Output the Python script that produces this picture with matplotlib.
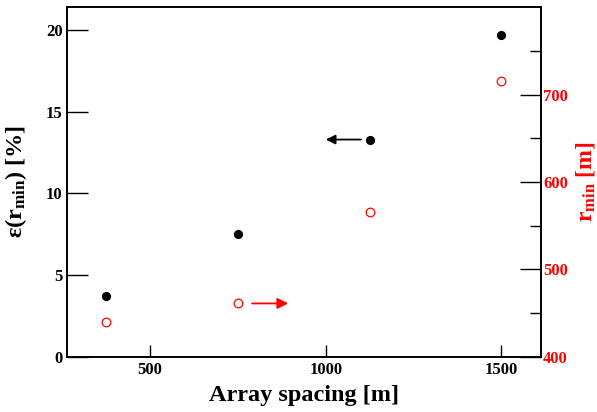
import matplotlib
matplotlib.use("Agg")
import matplotlib.pyplot as plt
from matplotlib.ticker import MultipleLocator, FixedLocator

plt.rcParams['font.family'] = 'Liberation Serif'
plt.rcParams['font.weight'] = 'bold'
plt.rcParams['mathtext.fontset'] = 'custom'
plt.rcParams['mathtext.rm'] = 'Liberation Serif:bold'
plt.rcParams['mathtext.it'] = 'Liberation Serif:bold'
plt.rcParams['mathtext.bf'] = 'Liberation Serif:bold'

# data
spacing = [375, 750, 1125, 1500]
eps_rmin = [3.72, 7.53, 13.29, 19.72]
r_min = [439.5, 461.7, 565.2, 715.8]
r_ticks = [400, 500, 600, 700]

fig = plt.figure(figsize=(5.97, 4.12), dpi=100)
ax = fig.add_axes([0.1117, 0.1342, 0.7945, 0.8481])
ax2 = ax.twinx()

ax.plot(spacing, eps_rmin, 'o', color='black', markersize=5.6, zorder=3)
ax2.plot(spacing, r_min, 'o', mfc='none', mec='red', mew=0.9, markersize=6.2, zorder=3)

ax.set_xlim(262.5, 1612.5)
ax.set_ylim(0, 21.4)
ax2.set_ylim(400, 800)

ax.xaxis.set_major_locator(MultipleLocator(500))
ax.yaxis.set_major_locator(MultipleLocator(5))
ax2.yaxis.set_major_locator(FixedLocator(r_ticks))
ax2.yaxis.set_minor_locator(FixedLocator([450, 550, 650, 750]))

ax.tick_params(axis='x', direction='in', length=9, width=1, labelsize=12, pad=4, top=False)
ax.tick_params(axis='y', direction='in', length=15, width=1, labelsize=12, pad=3, right=False)
ax2.tick_params(axis='y', which='major', direction='in', length=15, width=1,
                labelsize=12, pad=1.5)
ax2.tick_params(axis='y', which='minor', direction='in', length=8, width=1)
for lab in ax2.get_yticklabels():
    lab.set_color('red')

for s in ax.spines.values():
    s.set_linewidth(1.2)
for s in ax2.spines.values():
    s.set_linewidth(1.2)

ax.set_xlabel('Array spacing [m]', fontsize=17.5, fontweight='bold', labelpad=5)
ax.set_ylabel(r'ε(r$_{\mathregular{min}}$) [%]', fontsize=17.5, fontweight='bold', labelpad=12)
ax2.set_ylabel(r'r$_{\mathregular{min}}$ [m]', fontsize=17, fontweight='bold', color='red', labelpad=4)

# direction arrows
ax.annotate('', xy=(1000, 13.3), xytext=(1100, 13.3),
            arrowprops=dict(arrowstyle='-|>', color='black', lw=1.3,
                            mutation_scale=14, shrinkA=0, shrinkB=0))
ax2.annotate('', xy=(893, 461), xytext=(790, 461),
             arrowprops=dict(arrowstyle='-|>', color='red', lw=1.3,
                             mutation_scale=16, shrinkA=0, shrinkB=0))

fig.savefig('out.png', dpi=100)
